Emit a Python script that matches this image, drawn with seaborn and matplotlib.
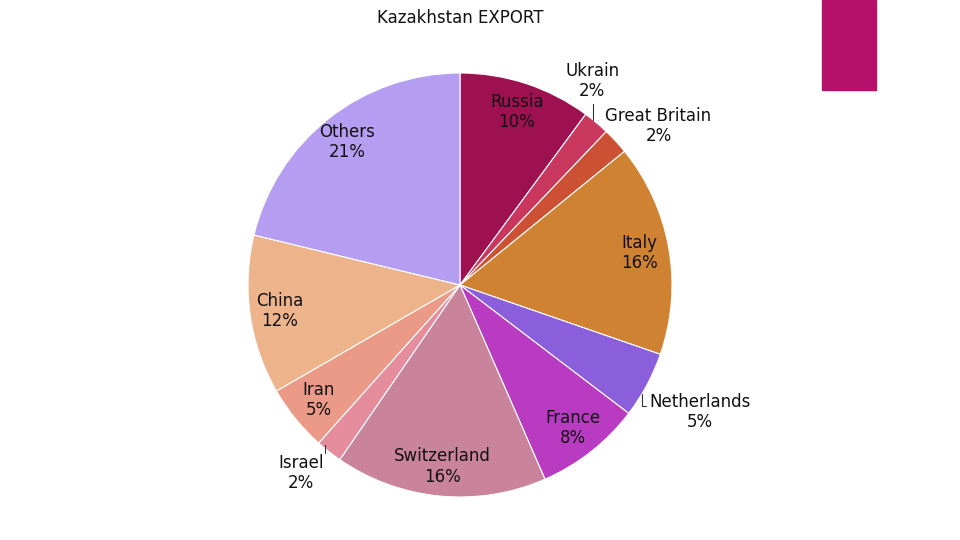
import numpy as np
import matplotlib
matplotlib.use("Agg")
import matplotlib.pyplot as plt
import seaborn as sns

countries = ['Russia', 'Ukrain', 'Great Britain', 'Italy', 'Netherlands', 'France',
             'Switzerland', 'Israel', 'Iran', 'China', 'Others']
shares = [10, 2, 2, 16, 5, 8, 16, 2, 5, 12, 21]
pct_labels = ['10%', '2%', '2%', '16%', '5%', '8%', '16%', '2%', '5%', '12%', '21%']
colors = ['#9E1151', '#C9375F', '#CC5033', '#D08233', '#8B5FDB', '#B93BC1',
          '#C9839B', '#E58D9D', '#EB9A87', '#EDB48B', '#B59DF2']

sns.set_style("white")
plt.rcParams['font.family'] = ['DejaVu Sans']

fig = plt.figure(figsize=(9.6, 5.4), dpi=100)
# pie centre at (460, 285) px, radius 212 px
ax = fig.add_axes([(460 - 212) / 960, (540 - 285 - 212) / 540, 424 / 960, 424 / 540])
wedges, _ = ax.pie(shares, colors=colors, startangle=90, counterclock=False,
                   wedgeprops=dict(edgecolor='white', linewidth=0.8))
ax.set_xlim(-1, 1)
ax.set_ylim(-1, 1)
ax.set_aspect('equal')
ax.axis('off')

# outside labels: (distance, angle nudge in degrees)
out_pos = {'Ukrain': (1.145, 7), 'Great Britain': (1.20, -4),
           'Netherlands': (1.28, 0.3), 'Israel': (1.16, -2)}
# leader ticks, relative to label centre (dx, dy0, dy1)
ticks = {'Ukrain': (0.005, -0.108, -0.184), 'Israel': (0.113, 0.132, 0.094)}

for w, name, pct in zip(wedges, countries, pct_labels):
    d, nudge = out_pos.get(name, (0.86, 0))
    mid = np.deg2rad((w.theta1 + w.theta2) / 2 + nudge)
    x, y = d * np.cos(mid), d * np.sin(mid)
    ax.text(x, y, f'{name}\n{pct}', ha='center', va='center', fontsize=12,
            color='#111111', linespacing=1.15, clip_on=False)
    if name in ticks:
        dx, dy0, dy1 = ticks[name]
        ax.plot([x + dx, x + dx], [y + dy0, y + dy1], color='#333333', lw=0.8, clip_on=False)
    if name == 'Netherlands':
        bx = x - 0.274
        ax.plot([bx, bx, bx + 0.02], [y + 0.085, y + 0.03, y + 0.03],
                color='#333333', lw=0.8, clip_on=False)

fig.text(460 / 960, 1 - 18 / 540, 'Kazakhstan EXPORT', ha='center', va='center',
         fontsize=12, color='#111111')

# accent block in the top-right corner
fig.patches.append(plt.Rectangle((822 / 960, 1 - 90 / 540), 54 / 960, 90 / 540,
                                 transform=fig.transFigure, color='#B5106A'))

fig.savefig('out.png', dpi=100)
